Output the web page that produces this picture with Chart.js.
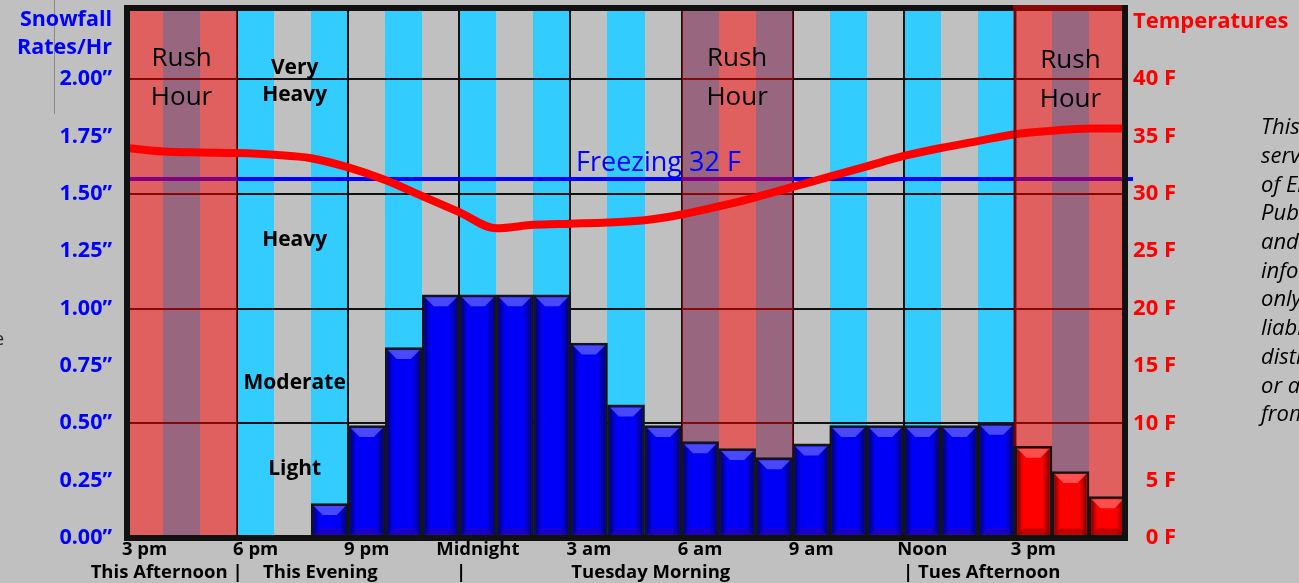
<!DOCTYPE html>
<html>
<head>
<meta charset="utf-8">
<script src="https://cdn.jsdelivr.net/npm/chart.js@4.4.1/dist/chart.umd.min.js"></script>
<style>
html,body{margin:0;padding:0;background:#c0c0c0;overflow:hidden}
#wrap{width:1299px;height:583px;position:relative}
</style>
</head>
<body>
<div id="wrap"><canvas id="c" width="1299" height="583"></canvas></div>
<script>
// ---------- DATA ----------
const hourLabels = ['3 pm','','','6 pm','','','9 pm','','','Midnight','','','3 am','','','6 am','','','9 am','','','Noon','','','3 pm','',''];
// snowfall rate (inches / hr) for each hour column
const snowfall = [null,null,null,null,null,0.15,0.49,0.83,1.06,1.06,1.06,1.06,0.85,0.58,0.49,0.42,0.39,0.35,0.41,0.49,0.49,0.49,0.49,0.50,0.40,0.29,0.18];
// temperature (F) at each hour boundary (0 .. 27)
const temperatures = [34.0,33.7,33.6,33.55,33.4,33.1,32.3,31.2,29.8,28.4,27.0,27.3,27.4,27.5,27.7,28.2,28.9,29.7,30.6,31.5,32.4,33.3,34.0,34.6,35.2,35.5,35.7,35.7];
const snowTicks = [0,0.25,0.5,0.75,1.0,1.25,1.5,1.75,2.0];
const tempTicks = [0,5,10,15,20,25,30,35,40];
const rushHourStarts = [0,15,24];
const rushHourLength = 3;
const freezingTemp = 31.3;
const rainStartHour = 24;
const intensityLabels = [
  {text:'Very', value:2.05},
  {text:'Heavy', value:1.93},
  {text:'Heavy', value:1.30},
  {text:'Moderate', value:0.675},
  {text:'Light', value:0.30}
];
const periodLabels = [
  {text:'This Afternoon |', hour:3.15, align:'right'},
  {text:'This Evening', hour:3.7, align:'left'},
  {text:'|', hour:9.05, align:'center'},
  {text:'Tuesday Morning', hour:14.17, align:'center'},
  {text:'| Tues Afternoon', hour:20.98, align:'left'}
];
const disclaimerLines = ['This graphic','service','of Emergency','Public','and','information','only','liability','distributed','or any','from'];

// ---------- PLUGINS ----------
const FONT = '"Open Sans", "Liberation Sans", sans-serif';

function noPad(s) { s.paddingTop = 0; s.paddingBottom = 0; s.paddingLeft = 0; s.paddingRight = 0; }

const decorPlugin = {
  id: 'decor',
  beforeDraw(chart) {
    const {ctx, chartArea: a, scales: {x}} = chart;
    ctx.save();
    ctx.fillStyle = '#c0c0c0';
    ctx.fillRect(0, 0, chart.width, chart.height);
    const n = hourLabels.length;
    const hw = a.width / n;
    for (let i = 0; i < n; i++) {
      const cx = x.getPixelForValue(i);
      const l = Math.round(cx - hw / 2), r = Math.round(cx + hw / 2);
      ctx.fillStyle = (i % 2) ? '#33ccff' : '#c0c0c0';
      ctx.fillRect(l, a.top, r - l, a.bottom - a.top);
    }
    // small marks at the far left
    ctx.strokeStyle = '#8a8a8a';
    ctx.lineWidth = 1;
    ctx.beginPath(); ctx.moveTo(54.5, 0); ctx.lineTo(54.5, 114); ctx.stroke();
    ctx.fillStyle = '#222';
    ctx.font = '18px ' + FONT;
    ctx.textBaseline = 'middle';
    ctx.textAlign = 'left';
    ctx.fillText('e', -6, 340);
    ctx.restore();
  },
  beforeDatasetsDraw(chart) {
    const {ctx, chartArea: a, scales: {x, x2, y, y2}} = chart;
    const n = hourLabels.length;
    const hw = a.width / n;
    ctx.save();
    // freezing line
    const fy = y2.getPixelForValue(freezingTemp);
    ctx.strokeStyle = '#0000ff';
    ctx.lineWidth = 4;
    ctx.beginPath(); ctx.moveTo(a.left, fy); ctx.lineTo(a.right + 7, fy); ctx.stroke();
    // rush hour overlays
    ctx.fillStyle = 'rgba(255,0,0,0.5)';
    rushHourStarts.forEach(s => {
      const l = Math.round(x.getPixelForValue(s) - hw / 2);
      const r = Math.round(x.getPixelForValue(s + rushHourLength - 1) + hw / 2);
      ctx.fillRect(l, a.top, r - l, a.bottom - a.top);
    });
    // Rush Hour labels
    ctx.fillStyle = '#000';
    ctx.font = '26px ' + FONT;
    ctx.textAlign = 'center';
    ctx.textBaseline = 'middle';
    rushHourStarts.forEach((s, k) => {
      const cx = x.getPixelForValue(s + 1);
      const dy = k === 2 ? 2 : 0;
      ctx.fillText('Rush', cx, y.getPixelForValue(2.09) + dy);
      ctx.fillText('Hour', cx, y.getPixelForValue(1.92) + dy);
    });
    // intensity labels
    ctx.font = 'bold 21px ' + FONT;
    const ix = x.getPixelForValue(4) + 2;
    intensityLabels.forEach(lab => {
      ctx.fillText(lab.text, ix, y.getPixelForValue(lab.value));
    });
    // freezing label
    ctx.fillStyle = '#0000ff';
    ctx.font = '27px ' + FONT;
    ctx.textAlign = 'left';
    ctx.fillText('Freezing 32 F', x2.getPixelForValue(12.15), y2.getPixelForValue(32.7));
    ctx.restore();
  },
  afterDatasetsDraw(chart) {
    const {ctx, chartArea: a, scales: {x}} = chart;
    const n = hourLabels.length;
    const hw = a.width / n;
    ctx.save();
    // plot frame
    ctx.strokeStyle = '#111';
    ctx.lineWidth = 6;
    ctx.strokeRect(a.left + 1, a.top, a.right - a.left - 2, a.bottom - a.top);
    // last rush hour box outline tint
    const s = rushHourStarts[rushHourStarts.length - 1];
    const l = Math.round(x.getPixelForValue(s) - hw / 2);
    const r = Math.round(x.getPixelForValue(s + rushHourLength - 1) + hw / 2);
    ctx.fillStyle = 'rgba(255,0,0,0.5)';
    ctx.fillRect(l - 2, a.top - 3, r - l - 2, 6);
    ctx.strokeStyle = 'rgba(128,0,0,0.9)';
    ctx.lineWidth = 3;
    ctx.beginPath(); ctx.moveTo(l, a.top); ctx.lineTo(l, firstRainBarTop(chart)); ctx.stroke();
    ctx.restore();
  },
  afterDraw(chart) {
    const {ctx, chartArea: a, scales: {x2}} = chart;
    ctx.save();
    ctx.textBaseline = 'middle';
    // axis titles
    ctx.font = 'bold 21.5px ' + FONT;
    ctx.fillStyle = '#0000ff';
    ctx.textAlign = 'right';
    ctx.fillText('Snowfall', a.left - 14, 20);
    ctx.fillText('Rates/Hr', a.left - 14, 48);
    ctx.fillStyle = '#ff0000';
    ctx.textAlign = 'left';
    ctx.font = 'bold 22px ' + FONT;
    ctx.fillText('Temperatures', a.right + 7, 22);
    // period labels
    ctx.fillStyle = '#000';
    ctx.font = 'bold 18.5px ' + FONT;
    periodLabels.forEach(p => {
      ctx.textAlign = p.align;
      ctx.fillText(p.text, x2.getPixelForValue(p.hour), 573);
    });
    // disclaimer
    ctx.font = 'italic 22px ' + FONT;
    ctx.textAlign = 'left';
    disclaimerLines.forEach((t, i) => ctx.fillText(t, 1261, 128 + i * 28.7));
    ctx.restore();
  }
};

function firstRainBarTop(chart) {
  const meta = chart.getDatasetMeta(1);
  const bar = meta.data[rainStartHour];
  return bar ? bar.y : chart.chartArea.bottom;
}

const bevelPlugin = {
  id: 'bevel',
  afterDatasetDraw(chart, args) {
    const ds = chart.data.datasets[args.index];
    if (ds.type !== 'bar') return;
    const ctx = chart.ctx;
    const bw = 2.5;
    ctx.save();
    args.meta.data.forEach((bar, i) => {
      if (snowfall[i] == null) return;
      const p = bar.getProps(['x', 'y', 'base', 'width'], true);
      const l = p.x - p.width / 2 + bw, r = p.x + p.width / 2 - bw;
      const t = Math.min(p.y, p.base) + bw, b = Math.max(p.y, p.base) - bw;
      const w = r - l;
      const isRed = i >= rainStartHour;
      const g = ctx.createLinearGradient(l, 0, r, 0);
      g.addColorStop(0, 'rgba(0,0,0,0.5)');
      g.addColorStop(0.18, 'rgba(0,0,0,0)');
      g.addColorStop(0.78, 'rgba(0,0,0,0)');
      g.addColorStop(1, 'rgba(0,0,0,0.5)');
      ctx.fillStyle = g;
      ctx.fillRect(l, t, w, b - t);
      const d = Math.min(9, (b - t) / 3);
      ctx.beginPath();
      ctx.moveTo(l, t); ctx.lineTo(r, t); ctx.lineTo(r - d, t + d); ctx.lineTo(l + d, t + d); ctx.closePath();
      ctx.fillStyle = isRed ? 'rgba(255,130,130,0.6)' : 'rgba(110,110,255,0.65)';
      ctx.fill();
      const e = Math.min(6, (b - t) / 4);
      ctx.beginPath();
      ctx.moveTo(l, b); ctx.lineTo(r, b); ctx.lineTo(r - e, b - e); ctx.lineTo(l + e, b - e); ctx.closePath();
      ctx.fillStyle = isRed ? 'rgba(110,0,0,0.4)' : 'rgba(70,0,130,0.4)';
      ctx.fill();
    });
    ctx.restore();
  }
};

// ---------- CHART ----------
new Chart(document.getElementById('c'), {
  type: 'bar',
  data: {
    labels: hourLabels,
    datasets: [
      {
        type: 'line',
        label: 'Temperature',
        data: temperatures.map((t, i) => ({x: i, y: t})),
        xAxisID: 'x2', yAxisID: 'y2',
        borderColor: '#ff0000', borderWidth: 8,
        pointRadius: 0, cubicInterpolationMode: 'monotone',
        borderCapStyle: 'butt',
        order: 0
      },
      {
        type: 'bar',
        label: 'Snowfall',
        data: snowfall,
        xAxisID: 'x', yAxisID: 'y',
        backgroundColor: c => c.dataIndex >= rainStartHour ? '#ff0000' : '#0000f8',
        borderColor: '#141414', borderWidth: 2.5, borderSkipped: false,
        barPercentage: 1, categoryPercentage: 1, grouped: false,
        order: 1
      }
    ]
  },
  options: {
    responsive: false,
    animation: false,
    devicePixelRatio: 1,
    layout: {padding: {left: 0, right: 123, top: 8, bottom: 0}},
    plugins: {legend: {display: false}, tooltip: {enabled: false}},
    scales: {
      x: {
        type: 'category', position: 'bottom', offset: true,
        grid: {offset: true, drawTicks: false, lineWidth: 2,
          color: c => (c.index !== undefined && c.index % 3 === 0) ? '#111' : 'rgba(0,0,0,0)'},
        border: {display: false},
        ticks: {autoSkip: false, maxRotation: 0, color: '#000', padding: 1,
          font: {family: FONT, weight: 'bold', size: 18.5}},
        afterFit: s => { s.height = 45; noPad(s); }
      },
      x2: {type: 'linear', display: false, min: 0, max: 27, offset: false, grid: {offset: false}},
      y: {
        type: 'linear', position: 'left', min: 0, max: 2.31,
        afterBuildTicks: s => { s.ticks = snowTicks.map(v => ({value: v})); },
        ticks: {callback: v => v.toFixed(2) + '”', color: '#0000ff', padding: 14,
          font: {family: FONT, weight: 'bold', size: 21.5}},
        grid: {drawTicks: false, lineWidth: 2,
          color: c => (c.tick && c.tick.value > 0 && Math.abs(c.tick.value * 2 - Math.round(c.tick.value * 2)) < 1e-6) ? '#111' : 'rgba(0,0,0,0)'},
        border: {display: false},
        afterFit: s => { s.width = 126; noPad(s); }
      },
      y2: {
        type: 'linear', position: 'right', min: 0, max: 46.2,
        afterBuildTicks: s => { s.ticks = tempTicks.map(v => ({value: v})); },
        ticks: {callback: v => v + ' F', color: '#ff0000', crossAlign: 'far', padding: 7,
          font: {family: FONT, weight: 'bold', size: 22}},
        grid: {display: false, drawTicks: false},
        border: {display: false},
        afterFit: s => { s.width = 50; noPad(s); }
      }
    }
  },
  plugins: [decorPlugin, bevelPlugin]
});
</script>
</body>
</html>
